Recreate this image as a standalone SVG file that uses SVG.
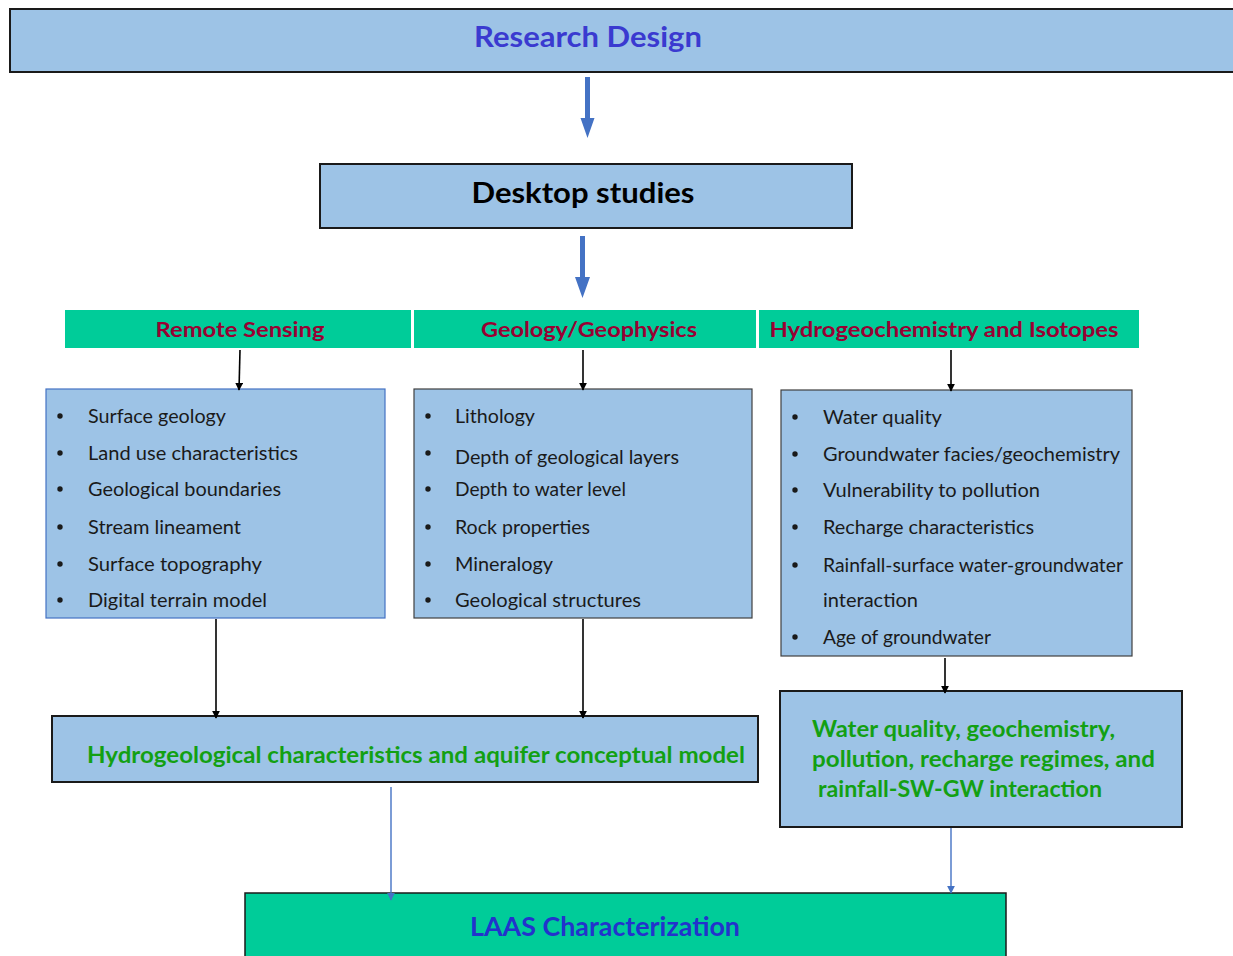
<svg xmlns="http://www.w3.org/2000/svg" width="1233" height="956" viewBox="0 0 1233 956">
  <style>
    .blue { fill: #9DC3E6; }
    .green { fill: #00CC99; }
    .dark { stroke: #1a1a1a; stroke-width: 2; }
    .thin { stroke: #404040; stroke-width: 1.2; }
    .edgeblue { stroke: #4472C4; stroke-width: 1.2; }
    text { font-family: Lato, "Open Sans", "Liberation Sans", sans-serif; }
    .title { font-size: 28px; font-weight: bold; }
    .head { font-size: 21px; font-weight: bold; fill: #990033; text-anchor: middle; }
    .item { font-size: 19.5px; fill: #1a1a1a; }
    .dot { fill: #1a1a1a; }
    .gtxt { font-size: 22px; font-weight: bold; fill: #13A013; }
    .conn-k { stroke: #000; stroke-width: 1.6; fill: none; marker-end: url(#headK); }
    .conn-b { stroke: #4472C4; stroke-width: 1.4; fill: none; marker-end: url(#headB); }
    .fat { fill: #4472C4; }
  </style>
  <defs>
    <marker id="headK" viewBox="0 0 10 10" refX="9" refY="5" markerWidth="8" markerHeight="8" markerUnits="userSpaceOnUse" orient="auto">
      <path d="M0,0 L10,5 L0,10 Z" fill="#000"/>
    </marker>
    <marker id="headB" viewBox="0 0 10 10" refX="9" refY="5" markerWidth="8" markerHeight="8" markerUnits="userSpaceOnUse" orient="auto">
      <path d="M0,0 L10,5 L0,10 Z" fill="#4472C4"/>
    </marker>
  </defs>

  <rect width="1233" height="956" fill="#ffffff"/>

  <!-- top banner -->
  <g id="research-design">
    <rect class="blue dark" x="10" y="9" width="1230" height="63"/>
    <text class="title" x="588" y="47" text-anchor="middle" fill="#3A3AD0" textLength="228" lengthAdjust="spacingAndGlyphs">Research Design</text>
  </g>

  <g id="desktop-studies">
    <rect class="blue dark" x="320" y="164" width="532" height="64"/>
    <text class="title" x="583" y="203" text-anchor="middle" fill="#000" textLength="223" lengthAdjust="spacingAndGlyphs">Desktop studies</text>
  </g>

  <!-- category headers -->
  <g id="hdr-remote-sensing">
    <rect class="green" x="65" y="310" width="346" height="38"/>
    <text class="head" x="240" y="337" textLength="169" lengthAdjust="spacingAndGlyphs">Remote Sensing</text>
  </g>
  <g id="hdr-geology">
    <rect class="green" x="414" y="310" width="342" height="38"/>
    <text class="head" x="589" y="337" textLength="216" lengthAdjust="spacingAndGlyphs">Geology/Geophysics</text>
  </g>
  <g id="hdr-hydro">
    <rect class="green" x="759" y="310" width="380" height="38"/>
    <text class="head" x="944" y="337" textLength="349" lengthAdjust="spacingAndGlyphs">Hydrogeochemistry and Isotopes</text>
  </g>

  <!-- remote sensing list -->
  <g id="list-remote-sensing">
    <rect class="blue edgeblue" x="46" y="389" width="339" height="229"/>
    <g class="dot">
      <circle cx="60" cy="416" r="2.7"/><circle cx="60" cy="453" r="2.7"/><circle cx="60" cy="489" r="2.7"/>
      <circle cx="60" cy="527" r="2.7"/><circle cx="60" cy="564" r="2.7"/><circle cx="60" cy="600" r="2.7"/>
    </g>
    <text class="item" x="88" y="423" textLength="138" lengthAdjust="spacingAndGlyphs">Surface geology</text>
    <text class="item" x="88" y="460" textLength="210" lengthAdjust="spacingAndGlyphs">Land  use  characteristics</text>
    <text class="item" x="88" y="496" textLength="193" lengthAdjust="spacingAndGlyphs">Geological boundaries</text>
    <text class="item" x="88" y="534" textLength="153" lengthAdjust="spacingAndGlyphs">Stream lineament</text>
    <text class="item" x="88" y="571" textLength="174" lengthAdjust="spacingAndGlyphs">Surface  topography</text>
    <text class="item" x="88" y="607" textLength="179" lengthAdjust="spacingAndGlyphs">Digital terrain model</text>
  </g>

  <!-- geology list -->
  <g id="list-geology">
    <rect class="blue thin" x="414" y="389" width="338" height="229"/>
    <g class="dot">
      <circle cx="428" cy="416" r="2.7"/><circle cx="428" cy="453" r="2.7"/><circle cx="428" cy="489" r="2.7"/>
      <circle cx="428" cy="527" r="2.7"/><circle cx="428" cy="564" r="2.7"/><circle cx="428" cy="600" r="2.7"/>
    </g>
    <text class="item" x="455" y="423" textLength="80" lengthAdjust="spacingAndGlyphs">Lithology</text>
    <text class="item" x="455" y="464" textLength="224" lengthAdjust="spacingAndGlyphs">Depth of geological layers</text>
    <text class="item" x="455" y="496" textLength="171" lengthAdjust="spacingAndGlyphs">Depth to water level</text>
    <text class="item" x="455" y="534" textLength="135" lengthAdjust="spacingAndGlyphs">Rock properties</text>
    <text class="item" x="455" y="571" textLength="98" lengthAdjust="spacingAndGlyphs">Mineralogy</text>
    <text class="item" x="455" y="607" textLength="186" lengthAdjust="spacingAndGlyphs">Geological  structures</text>
  </g>

  <!-- hydrogeochemistry list -->
  <g id="list-hydro">
    <rect class="blue thin" x="781" y="390" width="351" height="266"/>
    <g class="dot">
      <circle cx="795" cy="417" r="2.7"/><circle cx="795" cy="454" r="2.7"/><circle cx="795" cy="490" r="2.7"/>
      <circle cx="795" cy="527" r="2.7"/><circle cx="795" cy="565" r="2.7"/><circle cx="795" cy="637" r="2.7"/>
    </g>
    <text class="item" x="823" y="424" textLength="119" lengthAdjust="spacingAndGlyphs">Water quality</text>
    <text class="item" x="823" y="461" textLength="297" lengthAdjust="spacingAndGlyphs">Groundwater  facies/geochemistry</text>
    <text class="item" x="823" y="497" textLength="217" lengthAdjust="spacingAndGlyphs">Vulnerability to pollution</text>
    <text class="item" x="823" y="534" textLength="211" lengthAdjust="spacingAndGlyphs">Recharge  characteristics</text>
    <text class="item" x="823" y="572" textLength="300" lengthAdjust="spacingAndGlyphs">Rainfall-surface water-groundwater</text>
    <text class="item" x="823" y="607" textLength="95" lengthAdjust="spacingAndGlyphs">interaction</text>
    <text class="item" x="823" y="644" textLength="168" lengthAdjust="spacingAndGlyphs">Age of groundwater</text>
  </g>

  <!-- synthesis boxes -->
  <g id="aquifer-model">
    <rect class="blue dark" x="52" y="716" width="706" height="66"/>
    <text class="gtxt" x="87" y="763" textLength="658" lengthAdjust="spacingAndGlyphs">Hydrogeological characteristics  and aquifer conceptual model</text>
  </g>
  <g id="water-quality-summary">
    <rect class="blue dark" x="780" y="691" width="402" height="136"/>
    <text class="gtxt" x="812" y="737" textLength="303" lengthAdjust="spacingAndGlyphs">Water quality,  geochemistry,</text>
    <text class="gtxt" x="812" y="767" textLength="343" lengthAdjust="spacingAndGlyphs">pollution,  recharge regimes, and</text>
    <text class="gtxt" x="818" y="797" textLength="284" lengthAdjust="spacingAndGlyphs">rainfall-SW-GW interaction</text>
  </g>

  <g id="laas">
    <rect class="green" x="245" y="893" width="761" height="70" stroke="#1a1a1a" stroke-width="1.5"/>
    <text x="605" y="936" text-anchor="middle" font-size="26" font-weight="bold" fill="#2233CC" textLength="270" lengthAdjust="spacingAndGlyphs">LAAS Characterization</text>
  </g>

  <!-- connectors -->
  <g id="connectors">
    <path class="fat" d="M585,77 H590 V118 H594.5 L587.5,138 L580.5,118 H585 Z"/>
    <path class="fat" d="M580,236 H585 V277 H590 L582.5,298 L575,277 H580 Z"/>
    <line class="conn-k" x1="240" y1="350" x2="239" y2="390"/>
    <line class="conn-k" x1="583" y1="350" x2="583" y2="390"/>
    <line class="conn-k" x1="951" y1="350" x2="951" y2="391"/>
    <line class="conn-k" x1="216" y1="619" x2="216" y2="718"/>
    <line class="conn-k" x1="583" y1="619" x2="583" y2="718"/>
    <line class="conn-k" x1="945" y1="658" x2="945" y2="693"/>
    <line class="conn-b" x1="391" y1="787" x2="391" y2="900"/>
    <line class="conn-b" x1="951" y1="828" x2="951" y2="893"/>
  </g>
</svg>
